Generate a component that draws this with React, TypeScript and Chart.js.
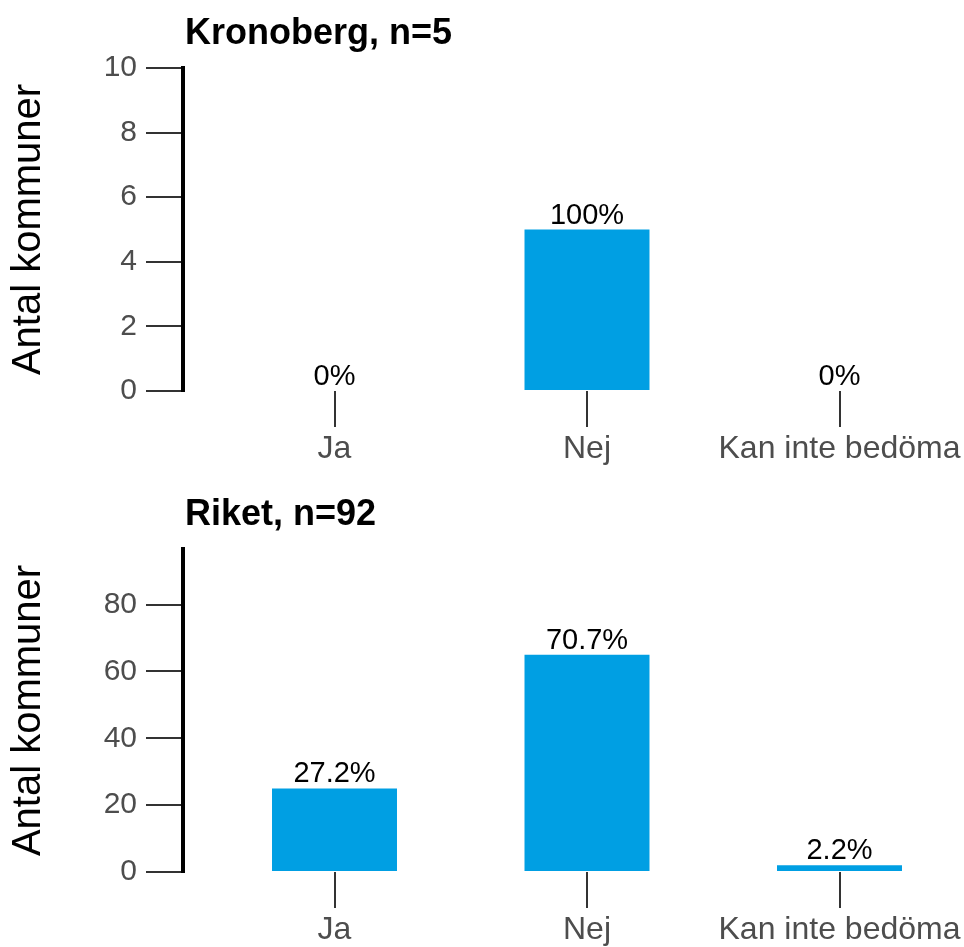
import React, { useEffect, useRef } from 'react';
import { Chart, registerables } from 'chart.js';

Chart.register(...registerables);

// ---- data ----
const categories = ['Ja', 'Nej', 'Kan inte bedöma'];

const kronobergTitle = 'Kronoberg, n=5';
const kronobergN = 5;
const kronobergValues = [0, 5, 0];
const kronobergYTicks = [0, 2, 4, 6, 8, 10];
const kronobergYMax = 10;

const riketTitle = 'Riket, n=92';
const riketN = 92;
const riketValues = [25, 65, 2];
const riketYTicks = [0, 20, 40, 60, 80];
const riketYMax = 96.6;

const yAxisTitle = 'Antal kommuner';

// ---- style ----
const FONT = '"Liberation Sans", Arial, Helvetica, sans-serif';
const BAR_COLOR = '#009FE3';
const TICK_LABEL_COLOR = '#4D4D4D';
const TICK_COLOR = '#333333';
const CANVAS_W = 964;
const PLOT_LEFT = 183;
const PLOT_TOP = 68;
const PLOT_BOTTOM = 391;
const X_MIN = 0.4;
const CAT_STEP_PX = 252.5;

function pctLabel(v: number, n: number): string {
  const p = Math.round((v / n) * 1000) / 10;
  return `${p}%`;
}

type PanelProps = {
  title: string;
  values: number[];
  n: number;
  yMax: number;
  yTicks: number[];
  height: number;
};

function Panel({ title, values, n, yMax, yTicks, height }: PanelProps) {
  const ref = useRef<HTMLCanvasElement | null>(null);

  useEffect(() => {
    if (!ref.current) return;
    const xMax = X_MIN + (CANVAS_W - PLOT_LEFT) / CAT_STEP_PX;

    const dataLabelPlugin = {
      id: 'dataLabels',
      afterDatasetsDraw(chart: any) {
        const { ctx } = chart;
        const meta = chart.getDatasetMeta(0);
        ctx.save();
        ctx.font = `29px ${FONT}`;
        ctx.fillStyle = '#000000';
        ctx.textAlign = 'center';
        ctx.textBaseline = 'alphabetic';
        meta.data.forEach((bar: any, i: number) => {
          ctx.fillText(pctLabel(values[i], n), bar.x, bar.y - 6);
        });
        ctx.restore();
      },
    };

    const titlePlugin = {
      id: 'panelTitle',
      afterDraw(chart: any) {
        const { ctx, chartArea } = chart;
        ctx.save();
        ctx.font = `bold 36px ${FONT}`;
        ctx.fillStyle = '#000000';
        ctx.textAlign = 'left';
        ctx.textBaseline = 'alphabetic';
        ctx.fillText(title, chartArea.left + 2, 44);
        ctx.restore();
      },
    };

    const chart = new Chart(ref.current, {
      type: 'bar',
      data: {
        datasets: [
          {
            data: values.map((v, i) => ({ x: i + 1, y: v })),
            backgroundColor: BAR_COLOR,
            borderWidth: 0,
            barPercentage: 0.495,
            categoryPercentage: 1,
          },
        ],
      },
      options: {
        responsive: false,
        animation: false,
        layout: { padding: { top: PLOT_TOP, left: 0, right: 0, bottom: 0 } },
        plugins: {
          legend: { display: false },
          tooltip: { enabled: false },
          title: { display: false },
        },
        scales: {
          x: {
            type: 'linear',
            min: X_MIN,
            max: xMax,
            offset: false,
            afterBuildTicks: (s: any) => {
              s.ticks = categories.map((_, i) => ({ value: i + 1 }));
            },
            afterFit: (s: any) => {
              s.height = height - PLOT_BOTTOM;
            },
            ticks: {
              callback: (v: any) => categories[Math.round(Number(v)) - 1] ?? '',
              font: { family: FONT, size: 32 },
              color: TICK_LABEL_COLOR,
              padding: 3,
              maxRotation: 0,
              autoSkip: false,
            },
            grid: {
              display: true,
              offset: false,
              drawOnChartArea: false,
              drawTicks: true,
              tickLength: 36,
              color: TICK_COLOR,
              lineWidth: 2,
            },
            border: { display: false },
          },
          y: {
            min: 0,
            max: yMax,
            afterBuildTicks: (s: any) => {
              s.ticks = yTicks.map((v) => ({ value: v }));
            },
            afterFit: (s: any) => {
              s.width = PLOT_LEFT;
            },
            ticks: {
              font: { family: FONT, size: 30 },
              color: TICK_LABEL_COLOR,
              padding: 9,
            },
            grid: {
              display: true,
              drawOnChartArea: false,
              drawTicks: true,
              tickLength: 37,
              color: TICK_COLOR,
              lineWidth: 2,
            },
            border: { display: true, color: '#000000', width: 4 },
            title: {
              display: true,
              text: yAxisTitle,
              font: { family: FONT, size: 40 },
              color: '#000000',
              padding: { top: 5, bottom: 0 },
            },
          },
        },
      } as any,
      plugins: [dataLabelPlugin, titlePlugin],
    });

    return () => chart.destroy();
  }, [title, values, n, yMax, yTicks, height]);

  return (
    <canvas
      ref={ref}
      width={CANVAS_W}
      height={height}
      style={{ display: 'block', width: CANVAS_W, height }}
    />
  );
}

export default function App() {
  return (
    <div style={{ position: 'absolute', left: 0, top: 0, width: CANVAS_W, background: '#ffffff' }}>
      <Panel
        title={kronobergTitle}
        values={kronobergValues}
        n={kronobergN}
        yMax={kronobergYMax}
        yTicks={kronobergYTicks}
        height={481}
      />
      <Panel
        title={riketTitle}
        values={riketValues}
        n={riketN}
        yMax={riketYMax}
        yTicks={riketYTicks}
        height={466}
      />
    </div>
  );
}
